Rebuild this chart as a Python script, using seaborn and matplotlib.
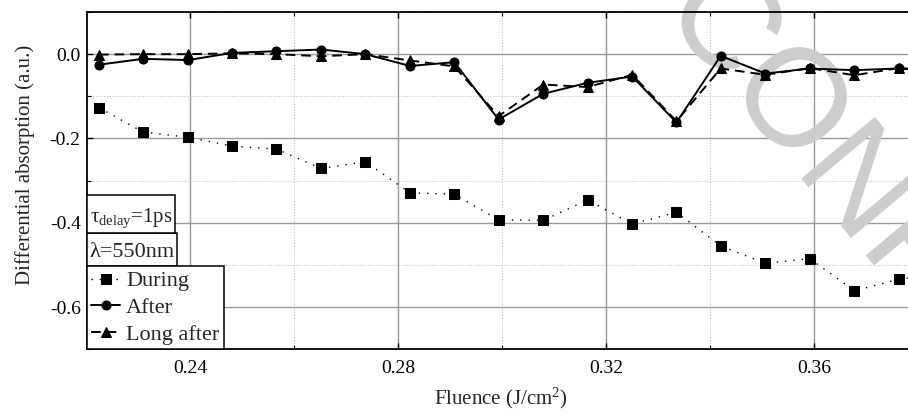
import numpy as np
import pandas as pd
import matplotlib
matplotlib.use("Agg")
import matplotlib.pyplot as plt
import seaborn as sns
from matplotlib.ticker import MultipleLocator, FormatStrFormatter
from matplotlib.patches import Rectangle
from matplotlib.transforms import IdentityTransform

# ---- data ----
fluence = [0.2225, 0.2310, 0.2396, 0.2481, 0.2566, 0.2652, 0.2737, 0.2823,
           0.2908, 0.2993, 0.3079, 0.3164, 0.3250, 0.3335, 0.3420, 0.3506,
           0.3591, 0.3677, 0.3762, 0.3847]
during = [-0.127, -0.185, -0.197, -0.218, -0.225, -0.271, -0.255, -0.329,
          -0.332, -0.393, -0.394, -0.346, -0.403, -0.375, -0.455, -0.496,
          -0.485, -0.561, -0.534, -0.520]
after = [-0.025, -0.011, -0.014, 0.003, 0.007, 0.011, 0.000, -0.028,
         -0.019, -0.155, -0.094, -0.068, -0.053, -0.162, -0.004, -0.046,
         -0.034, -0.038, -0.034, -0.040]
long_after = [-0.001, 0.000, 0.000, 0.002, 0.000, -0.005, 0.000, -0.015,
              -0.029, -0.147, -0.072, -0.078, -0.049, -0.159, -0.034, -0.049,
              -0.033, -0.050, -0.033, -0.040]
series_names = ["During", "After", "Long after"]
x_ticks_major = 0.04
y_ticks_major = 0.2

df = pd.DataFrame({
    "fluence": fluence * 3,
    "value": during + after + long_after,
    "series": [series_names[0]] * len(fluence) + [series_names[1]] * len(fluence)
              + [series_names[2]] * len(fluence),
})

sns.set_theme(style="white")
plt.rcParams["font.family"] = ["Liberation Serif", "DejaVu Serif"]
plt.rcParams["mathtext.fontset"] = "custom"
plt.rcParams["mathtext.rm"] = "Liberation Serif"
plt.rcParams["mathtext.it"] = "Liberation Serif:italic"
plt.rcParams["axes.unicode_minus"] = False

fig = plt.figure(figsize=(9.08, 4.12), dpi=100)
ax = fig.add_axes([87 / 908, (412 - 349.3) / 412, 1 - 87 / 908, (349.3 - 12) / 412])

styles = {
    "During": dict(marker="s", dashes=(1, 5), lw=1.0, ms=6.5),
    "After": dict(marker="o", dashes="", lw=1.4, ms=6.5),
    "Long after": dict(marker="^", dashes=(5, 3), lw=1.4, ms=7.0),
}
for name in series_names:
    sub = df[df["series"] == name]
    st = styles[name]
    sns.lineplot(data=sub, x="fluence", y="value", ax=ax, color="black",
                 marker=st["marker"], markersize=st["ms"], markeredgecolor="black",
                 linewidth=st["lw"], label=name, sort=False, estimator=None)
    line = ax.lines[-1]
    if st["dashes"]:
        line.set_dashes(st["dashes"])

ax.set_xlim(0.2202, 0.378)
ax.set_ylim(-0.7, 0.1)

ax.xaxis.set_major_locator(MultipleLocator(x_ticks_major))
ax.xaxis.set_minor_locator(MultipleLocator(x_ticks_major / 2))
ax.yaxis.set_major_locator(MultipleLocator(y_ticks_major))
ax.yaxis.set_minor_locator(MultipleLocator(y_ticks_major / 2))
ax.xaxis.set_major_formatter(FormatStrFormatter("%.2f"))
ax.yaxis.set_major_formatter(FormatStrFormatter("%.1f"))

ax.grid(which="major", color="#9a9a9a", linewidth=1.0, linestyle="-")
ax.grid(which="minor", color="#c4c4c4", linewidth=0.8, linestyle=(0, (1, 1.5)))
ax.set_axisbelow(True)

ax.tick_params(which="both", direction="in", top=True, left=True, bottom=True,
               right=False, colors="black", labelsize=14)
ax.tick_params(axis="x", which="both", pad=7.5)
ax.tick_params(axis="y", which="both", pad=4.5)
ax.tick_params(which="major", length=4, width=1)
ax.tick_params(which="minor", length=3, width=0.8)

for s in ["left", "bottom", "top"]:
    ax.spines[s].set_color("black")
    ax.spines[s].set_linewidth(1.3)
ax.spines["right"].set_visible(False)

ax.set_xlabel("Fluence (J/cm$^{2}$)", fontsize=15)
ax.set_ylabel("Differential absorption (a.u.)", fontsize=15)
ax.xaxis.set_label_coords(0.504, -0.109)
ax.yaxis.set_label_coords(-0.0633, 0.548)

handles, labels = ax.get_legend_handles_labels()
leg = ax.legend(handles, labels, loc="lower left", bbox_to_anchor=(0, 0),
                borderaxespad=0, fancybox=False, edgecolor="black",
                framealpha=1, fontsize=16, handlelength=1.3, handletextpad=0.25,
                borderpad=0.2, labelspacing=0.28, numpoints=1)
leg.get_frame().set_linewidth(1.1)

# stacked annotation boxes above the legend (sizes in pixels)
fig.canvas.draw()
x0 = ax.bbox.x0
box_specs = [("λ=550nm", 33, 16), ("τ$_{\\mathrm{delay}}$=1ps", 38, 15)]
bottom = leg.get_window_extent().y1
for txt, h, fs in box_specs:
    t = ax.text(x0 + 2.5, bottom + h / 2, txt, transform=IdentityTransform(),
                fontsize=fs, ha="left", va="center_baseline", zorder=6)
    fig.canvas.draw()
    w = t.get_window_extent().width + 5
    rect = Rectangle((x0, bottom), w, h, transform=IdentityTransform(),
                     facecolor="white", edgecolor="black", linewidth=1.1,
                     zorder=5)
    ax.add_patch(rect)
    bottom += h

# watermark
ax.text(684 / 908, 1 - (-8) / 412, "CONFIDENTIAL", transform=fig.transFigure,
        rotation=-50, rotation_mode="anchor", ha="left", va="center",
        fontsize=100, color="#cdcdcd", family="Liberation Sans",
        zorder=1.5, clip_on=False)

fig.savefig("out.png", dpi=100)
